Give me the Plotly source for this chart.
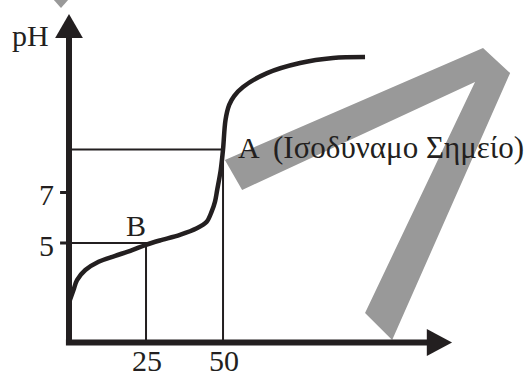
import plotly.graph_objects as go

# titration curve (volume of base in mL, pH)
volume = [0.3, 1.46, 2.6, 5.3, 9.6, 15.0, 20.5, 25, 29.5, 36.0, 41.5, 44.7, 46.3,
          47.4, 48.1, 49.25, 50, 50.8, 52.0, 53.6, 56.5, 64.3, 75, 85.7, 96.1]
ph = [2.74, 3.14, 3.53, 3.93, 4.26, 4.49, 4.72, 4.93, 5.10, 5.32, 5.58, 5.84, 6.24,
      6.64, 7.10, 7.89, 8.70, 9.87, 10.47, 10.82, 11.18, 11.73, 12.13, 12.33, 12.37]

eq_point = (50, 8.70)      # A
half_point = (25, 5.0)     # B
x_ticks = [25, 50]
y_ticks = [5, 7]

# grey "7" watermark outline, in the same units
mark_x = [50.6, 134.4, 143.2, 104.9, 96.1, 131.8, 56.2, 50.6]
mark_y = [8.29, 12.72, 11.73, 1.16, 2.23, 11.38, 7.10, 8.29]
corner_x = [-6.2, 1.0, -2.6, -6.2]
corner_y = [14.8, 14.8, 14.31, 14.8]

X_RANGE = [-22.4, 150.3]
Y_RANGE = [-0.188, 14.624]
X_AXIS_Y = 1.06
X_END = 124.35
Y_END = 14.07

INK = '#231f20'
GREY = '#999999'
FONT = 'Liberation Serif, Times New Roman, serif'

fig = go.Figure()

for mx, my in [(mark_x, mark_y), (corner_x, corner_y)]:
    fig.add_trace(go.Scatter(x=mx, y=my, mode='lines', fill='toself',
                             fillcolor=GREY, line=dict(width=0),
                             hoverinfo='skip'))

# guide lines to A and B
for px, py in [eq_point, half_point]:
    fig.add_trace(go.Scatter(x=[0, px, px], y=[py, py, X_AXIS_Y], mode='lines',
                             line=dict(color=INK, width=2), hoverinfo='skip'))

fig.add_trace(go.Scatter(x=volume, y=ph, mode='lines',
                         line=dict(color=INK, width=4.5, shape='spline',
                                   smoothing=0.9)))

# axes with arrow heads
fig.add_shape(type='line', x0=-1.0, x1=X_END - 7.5, y0=X_AXIS_Y, y1=X_AXIS_Y,
              line=dict(color=INK, width=6))
fig.add_shape(type='line', x0=0, x1=0, y0=X_AXIS_Y - 0.1, y1=Y_END - 0.85,
              line=dict(color=INK, width=6))
fig.add_shape(type='path',
              path=f'M {X_END - 8.2},{X_AXIS_Y - 0.535} L {X_END},{X_AXIS_Y} '
                   f'L {X_END - 8.2},{X_AXIS_Y + 0.535} Z',
              fillcolor=INK, line=dict(width=0))
fig.add_shape(type='path',
              path=f'M -4.5,{Y_END - 0.95} L 0,{Y_END} L 4.5,{Y_END - 0.95} Z',
              fillcolor=INK, line=dict(width=0))

for t in y_ticks:
    fig.add_shape(type='line', x0=-2.9, x1=0, y0=t, y1=t,
                  line=dict(color=INK, width=3))
    fig.add_annotation(x=-4.3, y=t - 0.08, text=str(t), showarrow=False,
                       xanchor='right', yanchor='middle')
for t in x_ticks:
    fig.add_annotation(x=t + 0.3, y=0.35, text=str(t), showarrow=False,
                       xanchor='center', yanchor='middle')

fig.add_annotation(x=-5.9, y=13.22, text='pH', showarrow=False,
                   xanchor='right', yanchor='middle')
fig.add_annotation(x=half_point[0] - 3.25, y=half_point[1] + 0.70, text='B',
                   showarrow=False, xanchor='center', yanchor='middle')
fig.add_annotation(x=eq_point[0] + 4.2, y=eq_point[1] + 0.09, text='A',
                   showarrow=False, xanchor='left', yanchor='middle')
fig.add_annotation(x=eq_point[0] + 15.6, y=eq_point[1] + 0.09,
                   text='(Ισοδύναμο Σημείο)', showarrow=False,
                   xanchor='left', yanchor='middle', font=dict(size=31))

fig.update_layout(
    width=532, height=374,
    margin=dict(l=0, r=0, t=0, b=0),
    paper_bgcolor='white', plot_bgcolor='white',
    showlegend=False,
    font=dict(family=FONT, size=30, color=INK),
    xaxis=dict(range=X_RANGE, visible=False, fixedrange=True),
    yaxis=dict(range=Y_RANGE, visible=False, fixedrange=True),
)

fig.write_html('out.html', config={'displayModeBar': False},
               post_script="document.body.style.margin='0';")
